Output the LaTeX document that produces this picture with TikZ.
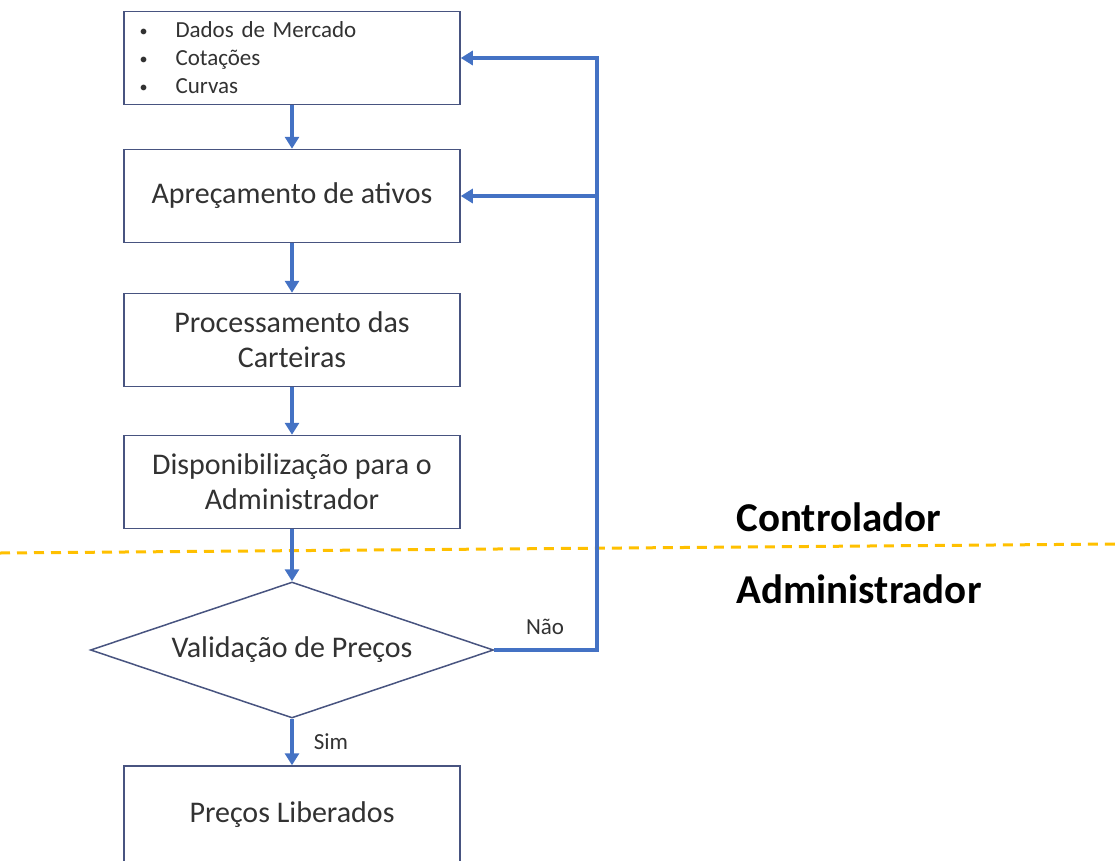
\documentclass[tikz,border=0pt]{standalone}
\usepackage{fontspec}
\setmainfont{Carlito}
\usepackage{tikz}
\usetikzlibrary{arrows.meta,shapes.geometric}
\definecolor{flowblue}{RGB}{68,114,196}
\definecolor{boxline}{RGB}{72,84,128}
\definecolor{lineyellow}{RGB}{255,192,0}
\definecolor{txtgray}{RGB}{50,50,50}
\newcommand{\listdot}{\hspace*{12pt}\makebox[36pt][l]{\raisebox{1pt}{\scalebox{0.7}{\textbullet}}}}

\begin{document}
\begin{tikzpicture}[x=1pt,y=-1pt,
    box/.style={draw=boxline,line width=1.5pt,fill=white,minimum width=336pt,
        minimum height=93pt,align=center,text=txtgray,font=\fontsize{30}{35}\selectfont},
    decision/.style={diamond,draw=boxline,line width=1.5pt,fill=white,inner sep=0pt,
        aspect=3,minimum width=403pt,minimum height=136pt,text=txtgray,
        font=\fontsize{30}{35}\selectfont},
    flow/.style={draw=flowblue,line width=4pt,-{Triangle[length=12pt,width=14pt]}},
    answer/.style={text=txtgray,font=\fontsize{23}{26}\selectfont},
    side/.style={font=\fontsize{41}{46}\selectfont\bfseries,anchor=west}]
    \useasboundingbox (0,0) rectangle (1117,860);

    \coordinate (sepleft) at (0,553);
    \coordinate (sepright) at (1117,544);
    \draw[lineyellow,line width=3pt,dash pattern=on 10pt off 7pt] (sepleft) -- (sepright);

    \node[box,align=left,text width=329pt,font=\fontsize{23}{28}\selectfont] (mercado) at (292,58)
        {\listdot Dados de Mercado\\
         \listdot Cotações\\
         \listdot Curvas};
    \node[box] (aprec) at (292,196) {Apreçamento de ativos};
    \node[box] (proc) at (292,340) {Processamento das\\Carteiras};
    \node[box] (dispo) at (292,482) {Disponibilização para o\\Administrador};
    \node[decision] (valid) at (292,650) {Validação de Preços};
    \node[box,minimum height=98pt] (liber) at (292,815) {Preços Liberados};

    \draw[flow] (mercado) -- (aprec);
    \draw[flow] (aprec) -- (proc);
    \draw[flow] (proc) -- (dispo);
    \draw[flow] (dispo) -- (valid);
    \draw[flow] (valid) -- (liber);

    \coordinate (loop) at (597,58);
    \draw[flow] (valid.east) -| (loop) -- (mercado.east);
    \draw[flow] (aprec.east -| loop) -- (aprec.east);

    \node[answer] (nao) at (545,627) {Não};
    \node[answer] (sim) at (331,742) {Sim};

    \node[side] (contr) at (733,517) {Controlador};
    \node[side] (admin) at (733,589) {Administrador};
  \end{tikzpicture}
\end{document}
